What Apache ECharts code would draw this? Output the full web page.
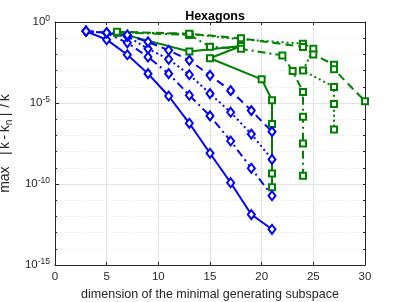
<!DOCTYPE html>
<html>
<head>
<meta charset="utf-8">
<script src="https://cdn.jsdelivr.net/npm/echarts@6/dist/echarts.min.js"></script>
<style>html,body{margin:0;padding:0;background:#fff;}#c{width:403px;height:302px;}</style>
</head>
<body>
<div id="c"></div>
<script>
// ---- data ----
const blueX = [3, 5, 7, 9, 11, 13, 15, 17, 19, 21];
const blueSolid   = [2.7e-1, 8.1e-2, 9.5e-3, 6.5e-4, 2.7e-5, 5.6e-7, 7.9e-9, 1.2e-10, 1.3e-12, 1.6e-13];
const blueDashDot = [2.7e-1, 2.1e-1, 5.2e-2, 6.9e-3, 6.5e-4, 3.0e-5, 1.6e-6, 4.5e-8, 9.3e-10, 1.9e-11];
const blueDotted  = [2.7e-1, 2.1e-1, 1.3e-1, 2.2e-2, 5.0e-3, 5.6e-4, 3.8e-5, 2.7e-6, 1.2e-7, 3.3e-9];
const blueDashed  = [2.7e-1, 2.2e-1, 1.6e-1, 5.9e-2, 1.8e-2, 4.3e-3, 5.1e-4, 5.8e-5, 3.4e-6, 1.7e-7];

const greenSolidX   = [6, 13, 18, 15, 20, 21, 21, 21, 21];
const greenSolid    = [2.2e-1, 1.5e-2, 3.3e-2, 5.8e-3, 2.9e-4, 1.5e-5, 5.0e-7, 4.4e-10, 6.3e-11];
const greenDashDotX = [6, 13, 15, 18, 22, 23, 24, 24, 24, 24];
const greenDashDot  = [2.3e-1, 1.6e-1, 3.0e-2, 2.2e-2, 8.7e-3, 9.5e-4, 4.8e-5, 1.4e-6, 3.2e-8, 3.2e-10];
const greenDottedX  = [6, 13, 18, 24, 25, 24, 27, 27, 27];
const greenDotted   = [2.4e-1, 1.8e-1, 8.5e-2, 4.6e-2, 2.2e-2, 1.0e-3, 9.8e-5, 8.7e-6, 2.3e-7];
const greenDashedX  = [6, 13, 18, 24, 25, 27, 27, 30];
const greenDashed   = [2.5e-1, 1.9e-1, 9.8e-2, 2.9e-2, 1.0e-2, 2.3e-3, 1.2e-3, 1.3e-5];

const xTicks = [0, 5, 10, 15, 20, 25, 30];
const yTickExponents = [0, -5, -10, -15];

// ---- chart ----
const BLUE = '#0000ff', GREEN = '#008000';
const styles = {
  solid: 'solid',
  dashed: [8, 5],
  dotted: [2, 3],
  dashdot: [8, 4, 2, 4]
};
function pairs(xs, ys) { return xs.map((x, i) => [x, ys[i]]); }
function mk(name, xs, ys, color, type, symbol, size) {
  return {
    name, type: 'line', data: pairs(xs, ys),
    symbol, symbolSize: size, showSymbol: true,
    lineStyle: { color, width: 2, type: styles[type] },
    itemStyle: { color, borderColor: color, borderWidth: 1.5 },
    emphasis: { disabled: true },
    animation: false
  };
}
const series = [
  mk('gs', greenSolidX, greenSolid, GREEN, 'solid', 'emptyRect', 6),
  mk('gdd', greenDashDotX, greenDashDot, GREEN, 'dashdot', 'emptyRect', 6),
  mk('gdo', greenDottedX, greenDotted, GREEN, 'dotted', 'emptyRect', 6),
  mk('gda', greenDashedX, greenDashed, GREEN, 'dashed', 'emptyRect', 6),
  mk('bs', blueX, blueSolid, BLUE, 'solid', 'emptyDiamond', [7, 9]),
  mk('bdd', blueX, blueDashDot, BLUE, 'dashdot', 'emptyDiamond', [7, 9]),
  mk('bdo', blueX, blueDotted, BLUE, 'dotted', 'emptyDiamond', [7, 9]),
  mk('bda', blueX, blueDashed, BLUE, 'dashed', 'emptyDiamond', [7, 9])
];

// y-axis title, math-style spacing around symbols
const yTitleMain = 'max |k-k', yTitleSub = 'n', yTitleEnd = '|/k';
function spread(s) {
  return s.split('').map(c => (' |-/'.indexOf(c) >= 0 ? '{p|' + c + '}' : '{c|' + c + '}')).join('');
}
const yTitle = spread(yTitleMain) + '{sub|' + yTitleSub + '}' + spread(yTitleEnd);

const AX = '#262626';
const FONT = 'Liberation Sans';
const yMin = Math.pow(10, Math.min(...yTickExponents));
const yMax = Math.pow(10, Math.max(...yTickExponents));
const chart = echarts.init(document.getElementById('c'), null, { renderer: 'canvas' });
chart.setOption({
  animation: false,
  backgroundColor: '#fff',
  title: {
    text: 'Hexagons', left: 210, top: 5, textAlign: 'center',
    textStyle: { fontFamily: FONT, fontSize: 12.5, fontWeight: 'bold', color: '#000' }
  },
  grid: { left: 55, right: 38, top: 22, bottom: 37, show: false, outerBoundsMode: 'none', containLabel: false },
  xAxis: [{
    type: 'value', min: xTicks[0], max: xTicks[xTicks.length - 1], interval: 5,
    name: 'dimension of the minimal generating subspace',
    nameLocation: 'middle', nameGap: 21,
    nameTextStyle: { fontFamily: FONT, fontSize: 12.5, color: AX },
    axisLine: { show: true, lineStyle: { color: AX, width: 1 } },
    axisTick: { show: true, inside: true, length: 3, lineStyle: { color: AX } },
    axisLabel: { fontFamily: FONT, fontSize: 11.5, color: AX, margin: 6 },
    splitLine: { show: true, lineStyle: { color: '#e3e3e3', width: 1 } }
  }, {
    type: 'value', position: 'top', min: xTicks[0], max: xTicks[xTicks.length - 1], interval: 5,
    axisLine: { show: true, onZero: false, lineStyle: { color: AX, width: 1 } },
    axisTick: { show: true, inside: true, length: 3, lineStyle: { color: AX } },
    axisLabel: { show: false }, splitLine: { show: false }
  }],
  yAxis: [{
    type: 'log', logBase: 10, min: yMin, max: yMax, interval: 1,
    name: yTitle,
    nameLocation: 'middle', nameGap: 32,
    nameTextStyle: {
      fontFamily: FONT, fontSize: 14, color: AX,
      rich: {
        c: { fontFamily: FONT, fontSize: 14, color: AX },
        p: { fontFamily: FONT, fontSize: 14, color: AX, padding: [0, 2.5, 0, 2.5] },
        sub: { fontFamily: FONT, fontSize: 10, color: AX, verticalAlign: 'bottom', padding: [7, 1, 0, 0] }
      }
    },
    axisLine: { show: true, onZero: false, lineStyle: { color: AX, width: 1 } },
    axisTick: { show: true, inside: true, length: 2, lineStyle: { color: AX } },
    axisLabel: {
      margin: 5, fontFamily: FONT, color: AX, showMinLabel: true, showMaxLabel: true, interval: 0,
      formatter: v => {
        const e = Math.round(Math.log10(v));
        return yTickExponents.indexOf(e) >= 0 ? '{b|10}{s|' + e + '}' : '';
      },
      rich: {
        b: { fontFamily: FONT, fontSize: 11.5, color: AX },
        s: { fontFamily: FONT, fontSize: 8.5, color: AX, verticalAlign: 'top', padding: [0, 0, 7, 0] }
      }
    },
    splitLine: { show: true, lineStyle: { color: '#e2e2e2', width: 1, type: [1, 2] } }
  }, {
    type: 'log', logBase: 10, min: yMin, max: yMax, interval: 5, position: 'left',
    axisLine: { show: false },
    axisTick: { show: true, inside: true, length: 4, lineStyle: { color: AX } },
    axisLabel: { show: false },
    splitLine: { show: true, lineStyle: { color: '#e3e3e3', width: 1 } }
  }, {
    type: 'log', logBase: 10, min: yMin, max: yMax, interval: 1, position: 'right',
    axisLine: { show: true, onZero: false, lineStyle: { color: AX, width: 1 } },
    axisTick: { show: true, inside: true, length: 2, lineStyle: { color: AX } },
    axisLabel: { show: false }, splitLine: { show: false }
  }],
  series
});
</script>
</body>
</html>
